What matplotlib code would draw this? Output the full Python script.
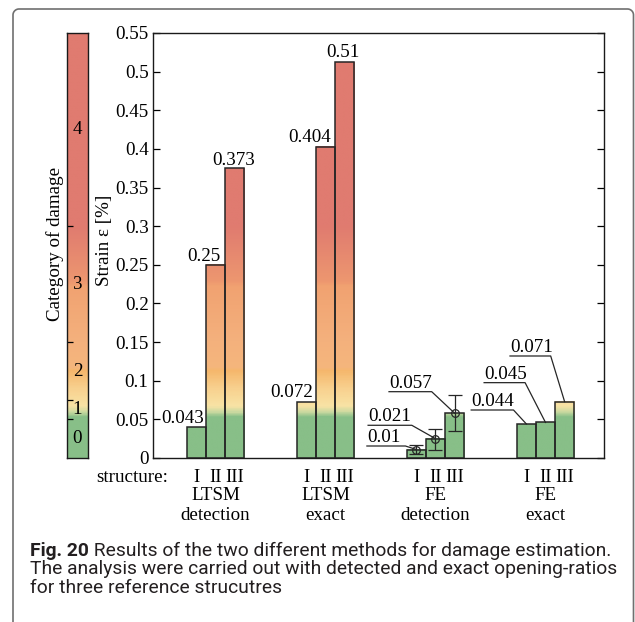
import numpy as np
import matplotlib
matplotlib.use('Agg')
import matplotlib.pyplot as plt
from matplotlib.colors import LinearSegmentedColormap
from matplotlib.lines import Line2D
from matplotlib.transforms import blended_transform_factory

# ---------------- data ----------------
group_line1 = ['LTSM', 'LTSM', 'FE', 'FE']
group_line2 = ['detection', 'exact', 'detection', 'exact']
structures = ['I', 'II', 'III']

ltsm_detection = [0.040, 0.250, 0.375]
ltsm_exact = [0.072, 0.403, 0.512]
fe_detection = [0.011, 0.025, 0.058]
fe_exact = [0.044, 0.046, 0.073]

ltsm_detection_labels = ['0.043', '0.25', '0.373']
ltsm_exact_labels = ['0.072', '0.404', '0.51']
fe_detection_labels = ['0.01', '0.021', '0.057']
fe_exact_labels = ['0.044', '0.045', '0.071']

fe_detection_err_low = [0.005, 0.011, 0.035]
fe_detection_err_high = [0.017, 0.038, 0.081]

category_bounds = [0.05, 0.075, 0.15, 0.3]
category_labels = ['0', '1', '2', '3', '4']
category_label_pos = [0.025, 0.0625, 0.1125, 0.225, 0.425]

y_ticks = [0, 0.05, 0.1, 0.15, 0.2, 0.25, 0.3, 0.35, 0.4, 0.45, 0.5, 0.55]

caption_bold = 'Fig. 20'
caption_lines = [' Results of the two different methods for damage estimation.',
                 'The analysis were carried out with detected and exact opening-ratios',
                 'for three reference strucutres']

# ---------------- style ----------------
plt.rcParams['font.family'] = ['Liberation Serif', 'DejaVu Serif']
FS = 13.7
W, H = 635, 622
YMAX = 0.55

stops = [
    (0.000, '#88bf88'), (0.052, '#88bf88'), (0.058, '#c9d9a0'),
    (0.066, '#f8e3a5'), (0.090, '#f8d08e'), (0.112, '#f5b76c'),
    (0.116, '#f5b67c'), (0.150, '#f4b17d'), (0.222, '#f1a271'),
    (0.228, '#ed976f'), (0.300, '#e07b70'), (0.550, '#e07b70')]
cmap = LinearSegmentedColormap.from_list('damage', [(v / YMAX, c) for v, c in stops])

fig = plt.figure(figsize=(W / 100, H / 100), dpi=100)

ax_l, ax_r, ax_t, ax_b = 152.7, 604.0, 33.0, 458.0
ax = fig.add_axes([ax_l / W, 1 - ax_b / H, (ax_r - ax_l) / W, (ax_b - ax_t) / H])
cax = fig.add_axes([67.3 / W, 1 - ax_b / H, (87.5 - 67.3) / W, (ax_b - ax_t) / H])

bw = 19.1 / 110.0
offs = [-bw, 0, bw]
series = [ltsm_detection, ltsm_exact, fe_detection, fe_exact]
edge = '#262626'

for g, vals in enumerate(series):
    xs = [g + 1 + o for o in offs]
    for x, h in zip(xs, vals):
        ax.imshow(np.linspace(0, h, 400).reshape(-1, 1),
                  extent=[x - bw / 2, x + bw / 2, 0, h], origin='lower',
                  cmap=cmap, vmin=0, vmax=YMAX, aspect='auto',
                  interpolation='bilinear', zorder=2)
    ax.bar(xs, vals, width=bw, facecolor='none', edgecolor=edge, linewidth=1.1, zorder=3)

ax.set_xlim(1 - (215.5 - ax_l) / 110.0, 4 + (ax_r - 545.5) / 110.0)
ax.set_ylim(0, YMAX)
ax.set_yticks(y_ticks)
ax.set_yticklabels(['%g' % t for t in y_ticks])
ax.set_xticks([])
ax.tick_params(axis='y', direction='in', length=5, left=True, right=True,
               labelsize=FS, pad=3, width=0.9)
for s in ax.spines.values():
    s.set_linewidth(1.0)
    s.set_color('#1a1a1a')
ax.set_ylabel('Strain ε [%]', fontsize=FS)
ax.yaxis.set_label_coords(-0.089, 0.513)

# LTSM labels directly above bars
ltsm_offsets = [[(-13.4, 4), (-11.5, 4), (-1, 3.5)],
                [(-14.5, 5), (-15.5, 4.5), (-1.5, 5)]]
for g, (vals, labs) in enumerate([(ltsm_detection, ltsm_detection_labels),
                                  (ltsm_exact, ltsm_exact_labels)]):
    for i, (h, lab) in enumerate(zip(vals, labs)):
        dx, dy = ltsm_offsets[g][i]
        ax.annotate(lab, xy=(g + 1 + offs[i], h), xytext=(dx, dy),
                    textcoords='offset pixels', ha='center', va='baseline',
                    fontsize=FS, zorder=5)

# FE error bars
xs_fd = [3 + o for o in offs]
err = [np.array(fe_detection) - np.array(fe_detection_err_low),
       np.array(fe_detection_err_high) - np.array(fe_detection)]
ax.errorbar(xs_fd, fe_detection, yerr=err, fmt='o', mfc='none', mec=edge,
            ms=5.5, mew=0.9, ecolor=edge, elinewidth=0.9, capsize=5.2,
            capthick=0.9, zorder=4)

# FE leader-line labels (underline y offset, underline x start, x end) in pixels
fe_leaders = [[(3.5, -49.5, -11.0), (13.4, -67.4, -23.7), (21.5, -65.6, -22.9)],
              [(14.0, -55.2, -12.9), (39.8, -61.4, -20.4), (45.6, -54.6, -13.9)]]
fig.canvas.draw()
trans = ax.transData
inv = trans.inverted()
for g, (vals, labs) in enumerate([(fe_detection, fe_detection_labels),
                                  (fe_exact, fe_exact_labels)]):
    for i, (h, lab) in enumerate(zip(vals, labs)):
        uy, lx0, lx1 = fe_leaders[g][i]
        px, py = trans.transform((g + 3 + offs[i], h))
        pts = inv.transform([(px + lx0, py + uy), (px + lx1, py + uy), (px, py)])
        ax.plot(pts[:, 0], pts[:, 1], color=edge, lw=0.9, zorder=5, clip_on=False)
        ax.text(pts[0, 0], inv.transform((px + lx0, py + uy + 4.0))[1], lab,
                ha='left', va='baseline', fontsize=FS, zorder=5)

# x labels under the axes
bt = blended_transform_factory(ax.transData, fig.transFigure)
fig.text(168 / W, 1 - 482.3 / H, 'structure:', ha='right', va='baseline', fontsize=FS)
for g in range(4):
    for i, s in enumerate(structures):
        fig.text(g + 1 + offs[i], 1 - 482.3 / H, s, transform=bt,
                 ha='center', va='baseline', fontsize=FS)
    fig.text(g + 1, 1 - 500.5 / H, group_line1[g], transform=bt,
             ha='center', va='baseline', fontsize=FS)
    fig.text(g + 1, 1 - 519.5 / H, group_line2[g], transform=bt,
             ha='center', va='baseline', fontsize=FS)

# colorbar
cax.imshow(np.linspace(0, YMAX, 600).reshape(-1, 1), extent=[0, 1, 0, YMAX],
           origin='lower', cmap=cmap, vmin=0, vmax=YMAX, aspect='auto',
           interpolation='bilinear')
cax.set_xlim(0, 1)
cax.set_ylim(0, YMAX)
cax.set_xticks([])
cax.set_yticks(category_bounds)
cax.tick_params(axis='y', direction='in', length=4, left=True, right=False,
                labelleft=False, width=0.9)
for s in cax.spines.values():
    s.set_linewidth(1.0)
    s.set_color('#1a1a1a')
for lab, pos in zip(category_labels, category_label_pos):
    cax.text(0.5, pos, lab, ha='center', va='center', fontsize=FS)
fig.text(55 / W, 1 - 244 / H, 'Category of damage', rotation=90,
         ha='center', va='center', fontsize=FS)

# frame: open rounded box (left, top, right), running off the bottom
fl, ft, fr, rad = 13.0, 9.0, 633.5, 6.0
t = np.linspace(0, np.pi / 2, 20)
left_arc = np.column_stack([fl + rad - rad * np.cos(t), ft + rad - rad * np.sin(t)])
right_arc = np.column_stack([fr - rad + rad * np.sin(t), ft + rad - rad * np.cos(t)])
path = np.vstack([[[fl, H + 5]], left_arc, right_arc, [[fr, H + 5]]])
fig.add_artist(Line2D(path[:, 0] / W, 1 - path[:, 1] / H, transform=fig.transFigure,
                      color='#707070', lw=1.2, solid_joinstyle='round'))

# caption
cap_font = ['Roboto', 'DejaVu Sans']
renderer = fig.canvas.get_renderer()
probe = fig.text(0, 0, caption_lines[1], fontsize=12, family=cap_font)
wpx = probe.get_window_extent(renderer=renderer).width
probe.remove()
cfs = 12 * 585.0 / wpx
tb = fig.text(29.7 / W, 1 - 556 / H, caption_bold, fontsize=cfs, family=cap_font,
              fontweight='bold', ha='left', va='baseline', color='#231f20')
fig.canvas.draw()
bb = tb.get_window_extent(renderer=renderer)
fig.text(bb.x1 / W, 1 - 556 / H, caption_lines[0], fontsize=cfs, family=cap_font,
         ha='left', va='baseline', color='#231f20')
fig.text(29.7 / W, 1 - 574.3 / H, caption_lines[1], fontsize=cfs, family=cap_font,
         ha='left', va='baseline', color='#231f20')
fig.text(29.7 / W, 1 - 592.7 / H, caption_lines[2], fontsize=cfs, family=cap_font,
         ha='left', va='baseline', color='#231f20')

fig.savefig('out.png', dpi=100)
